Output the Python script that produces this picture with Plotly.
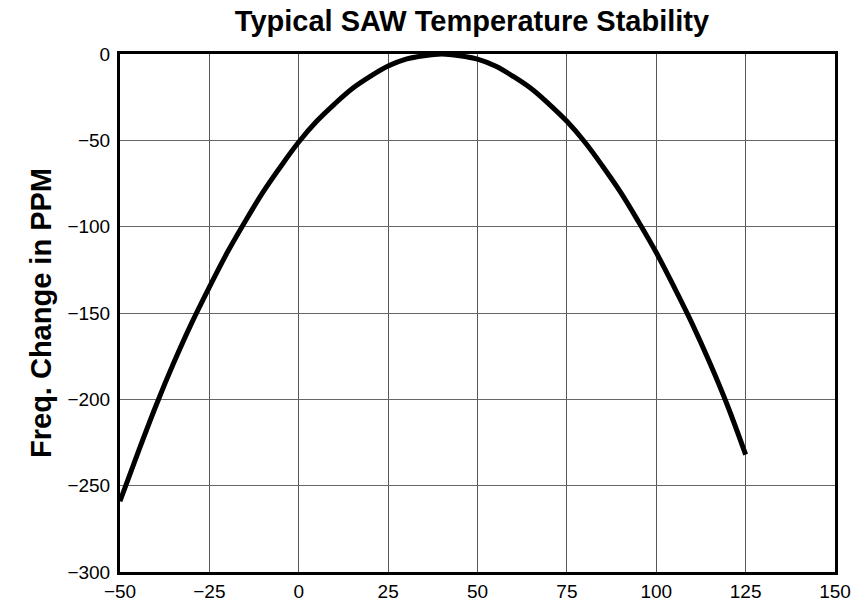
import plotly.graph_objects as go

# Temperature (°C) and frequency deviation (ppm) of a typical SAW resonator
temperature_c = [-50, -45, -40, -35, -30, -25, -20, -15, -10, -5, 0, 5, 10, 15, 20,
                 25, 30, 35, 40, 45, 50, 55, 60, 65, 70, 75, 80, 85, 90, 95, 100,
                 105, 110, 115, 120, 125]
freq_change_ppm = [-259, -231, -204, -179, -156, -135, -115, -97, -80, -65, -51, -39,
                   -29, -20, -13, -7, -3, -1, 0, -1, -3, -7, -13, -20, -29, -39, -51,
                   -65, -80, -97, -115, -135, -156, -179, -204, -232]

x_ticks = [-50, -25, 0, 25, 50, 75, 100, 125, 150]
y_ticks = [0, -50, -100, -150, -200, -250, -300]

FONT = "Liberation Sans, Arial, Helvetica, sans-serif"

fig = go.Figure()
fig.add_trace(go.Scatter(
    x=temperature_c,
    y=freq_change_ppm,
    mode="lines",
    line=dict(color="black", width=5, shape="spline", smoothing=1.0),
    showlegend=False,
    hoverinfo="x+y",
))

fig.update_layout(
    width=853,
    height=607,
    margin=dict(l=120, r=18, t=54, b=35),
    paper_bgcolor="white",
    plot_bgcolor="white",
    font=dict(family=FONT, color="black"),
    title=dict(
        text="<b>Typical SAW Temperature Stability</b>",
        font=dict(family=FONT, size=29, color="black"),
        x=472 / 853,
        xanchor="center",
        xref="container",
        y=1 - 21 / 607,
        yanchor="middle",
        yref="container",
    ),
)

fig.update_xaxes(
    range=[-50, 150],
    tickvals=x_ticks,
    ticks="",
    tickfont=dict(family=FONT, size=19, color="black"),
    showgrid=True,
    gridcolor="#555555",
    gridwidth=1,
    zeroline=False,
    showline=True,
    linecolor="black",
    linewidth=3,
    mirror=True,
    automargin=False,
    ticklabelstandoff=0,
)

fig.update_yaxes(
    range=[-300, 0],
    tickvals=y_ticks,
    ticks="",
    tickfont=dict(family=FONT, size=19, color="black"),
    showgrid=True,
    gridcolor="#666666",
    gridwidth=1,
    zeroline=False,
    showline=True,
    linecolor="black",
    linewidth=3,
    mirror=True,
    automargin=False,
    ticklabelstandoff=3,
    title=dict(
        text="<b>Freq. Change in PPM</b>",
        font=dict(family=FONT, size=29, color="black"),
        standoff=8,
    ),
)

fig.write_html("out.html")
